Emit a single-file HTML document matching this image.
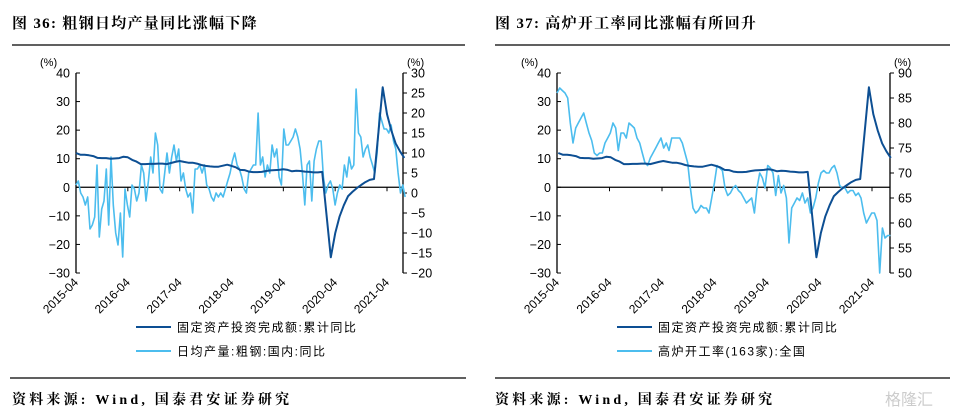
<!DOCTYPE html>
<html><head><meta charset="utf-8"><style>
body{margin:0;background:#fff;width:959px;height:418px;overflow:hidden;font-family:"Liberation Sans","Noto Sans CJK SC",sans-serif}
svg{position:absolute;left:0;top:0}
</style></head><body>
<svg id="c" width="959" height="418">
<text x="12" y="28" font-size="15" font-weight="bold" letter-spacing="1.3" font-family="Liberation Serif, Noto Serif CJK SC, serif">图 36:  粗钢日均产量同比涨幅下降</text>
<line x1="12" y1="45" x2="465" y2="45" stroke="#000" stroke-width="1.2"/>
<text x="495" y="28" font-size="15" font-weight="bold" letter-spacing="1.3" font-family="Liberation Serif, Noto Serif CJK SC, serif">图 37:  高炉开工率同比涨幅有所回升</text>
<line x1="495" y1="45" x2="950" y2="45" stroke="#000" stroke-width="1.2"/>
<line x1="10" y1="378" x2="466" y2="378" stroke="#000" stroke-width="1.2"/>
<line x1="495" y1="378" x2="950" y2="378" stroke="#000" stroke-width="1.2"/>
<text x="12" y="404" font-size="14" font-weight="bold" letter-spacing="3.2" font-family="Liberation Serif, Noto Serif CJK SC, serif">资料来源: Wind, 国泰君安证券研究</text>
<text x="495" y="404" font-size="14" font-weight="bold" letter-spacing="3.2" font-family="Liberation Serif, Noto Serif CJK SC, serif">资料来源: Wind, 国泰君安证券研究</text>
<text x="885" y="405" font-size="16" fill="#ccc">格隆汇</text>
</svg>
<script>
const yearLabels=["2015-04","2016-04","2017-04","2018-04","2019-04","2020-04","2021-04"];
const leftTicks=[40,30,20,10,0,-10,-20,-30];
const steelTicks=[30,25,20,15,10,5,0,-5,-10,-15,-20];
const furnaceTicks=[90,85,80,75,70,65,60,55,50];
// FAI cumulative yoy, monthly from 2015-04 to 2021-08 (null = January, not published)
const fai=[12.0,11.4,11.4,11.2,10.9,10.3,10.2,10.2,10.0,null,10.2,10.7,10.5,9.6,9.0,8.1,8.1,8.2,8.2,8.3,8.3,8.1,null,8.9,9.2,8.9,8.6,8.6,8.3,7.8,7.5,7.3,7.2,7.2,null,7.9,7.5,7.0,6.1,6.0,5.5,5.3,5.3,5.4,5.7,5.9,null,6.1,6.3,6.1,5.6,5.8,5.7,5.5,5.4,5.2,5.2,5.4,null,-24.5,-16.1,-10.3,-6.3,-3.1,-1.6,-0.3,0.8,1.8,2.6,2.9,null,35.0,25.6,19.9,15.4,12.6,10.3];
// crude steel daily output yoy, roughly semi-monthly, 2015-04 to 2021-08
const steel=[2,3,0,-1,-3,-1,-9,-8,-6,7,-11,-4,-2,6,-8,9,-3,-10,-13,-5,-16,1,-3,-6,2,1,-2,0,7,5,-2,3,9,5,15,12,1,0,5,10,5,9,12,8,11,3,5,1,-1,0,-5,6,6,7,5,7,2,1,-1,-2,0,-1,0,-1,1,3,5,8,10,7,6,4,1,0,5,6,7,7,20,7,9,4,7,5,12,9,11,4,2,16,12,12,13,14,16,14,11,5,-3,7,8,-2,8,11,13,13,4,0,2,3,1,-3,0,2,1,7,4,9,6,7,26,15,14,9,11,12,9,7,5,10,20,18,16,16,15,17,13,11,5,0,2,-1];
// blast furnace utilisation (163 mills), roughly semi-monthly, 2015-04 to 2021-08
const furnace=[86,87,86.5,86,85,80,76,79,80,81,82,80,78,76.5,74,73.5,74,74,76,77,78,80,79,74.5,78,78,77,80,79.5,79,77,76,74,72,71.5,73,74,75,76,77,75,76,74.5,77,77,77,77,76,74,72,67,63,62,62.5,63.5,63,63,62,65,68,71.5,71,70.5,67,65.5,66,67,67.5,66.5,66,65,64,64.5,65,62,67,70,69,67,71.5,71,70,65.5,69.5,66,67.5,65,56,63,64,65,64.5,66,64,65,62,63,65,68,70,70.5,70,70,71,71.5,70,67.5,67,67,66,66.5,66.5,65.5,66,65,62,60,61,62,62,60.5,50,59,57,57.5,57.5];

const NS='http://www.w3.org/2000/svg';
const svg=document.getElementById('c');
function el(tag,attrs,parent){const e=document.createElementNS(NS,tag);for(const k in attrs)e.setAttribute(k,attrs[k]);(parent||svg).appendChild(e);return e;}
const DARK='#0d4f93',LIGHT='#4cbdee';
const SPAN=76.2;

function drawChart(cfg){
  const g=el('g',{});
  
  
  const x0=cfg.x0,x1=cfg.x1,yt=73,yb=273;
  const xs=m=>x0+m*cfg.perMonth;
  const yl=v=>yt+(40-v)/70*(yb-yt);
  const yr=v=>yt+(cfg.rMax-v)/(cfg.rMax-cfg.rMin)*(yb-yt);
  const la=el('line',{x1:x0,y1:yt,x2:x0,y2:yb,stroke:'#000','stroke-width':1.3},g);
  
  
  const ra=el('line',{x1:x1,y1:yt,x2:x1,y2:yb,stroke:'#000','stroke-width':1.3},g);
  
  
  leftTicks.forEach(v=>{
    el('line',{x1:x0,y1:yl(v),x2:x0+4,y2:yl(v),stroke:'#000'},g);
    const t=el('text',{x:x0-6,y:yl(v)+4.5,'font-size':12.5,'text-anchor':'end'},g);
    t.textContent=v===0?'0':(v<0?'\u2212'+(-v):v);
    
    
  });
  cfg.rTicks.forEach(v=>{
    el('line',{x1:x1,y1:yr(v),x2:x1+4,y2:yr(v),stroke:'#000'},g);
    const t=el('text',{x:x1+8,y:yr(v)+4.5,'font-size':12.5},g);
    t.textContent=v<0?'\u2212'+(-v):v;
    
    
  });
  [[x0-36,'left-unit-label'],[x1+4,'right-unit-label']].forEach(([x,n])=>{
    const t=el('text',{x:x,y:66,'font-size':11},g);t.textContent='(%)';
    
    
  });
  const z=el('line',{x1:x0,y1:yl(0),x2:x1,y2:yl(0),stroke:'#000','stroke-width':1.2},g);
  
  
  yearLabels.forEach((lab,i)=>{
    const x=xs(i*12);
    el('line',{x1:x,y1:yl(0),x2:x,y2:yl(0)+4,stroke:'#000'},g);
    const t=el('text',{x:x+3,y:283,'font-size':12,'text-anchor':'end',transform:`rotate(-45 ${x+3} 283)`},g);
    t.textContent=lab;
    
    
  });
  const arr=cfg.light;
  let d='';arr.forEach((v,i)=>{const m=i*SPAN/(arr.length-1);d+=(i?'L':'M')+xs(m).toFixed(1)+','+yr(v).toFixed(1);});
  const lp=el('path',{d:d,fill:'none',stroke:LIGHT,'stroke-width':1.6,'stroke-linejoin':'round'},g);
  
  
  let d2='';let first=true;
  fai.forEach((v,i)=>{if(v===null)return;d2+=(first?'M':'L')+xs(i+cfg.faiOffset).toFixed(1)+','+yl(v).toFixed(1);first=false;});
  const dp=el('path',{d:d2,fill:'none',stroke:DARK,'stroke-width':2,'stroke-linejoin':'round'},g);
  
  
  const lx=cfg.legendX;
  const l1=el('line',{x1:lx,y1:327,x2:lx+35,y2:327,stroke:DARK,'stroke-width':2},g);
  
  
  const t1=el('text',{x:lx+41,y:331.5,'font-size':12,'letter-spacing':'1.5'},g);t1.textContent='固定资产投资完成额:累计同比';
  
  
  const l2=el('line',{x1:lx,y1:351,x2:lx+35,y2:351,stroke:LIGHT,'stroke-width':2},g);
  
  
  const t2=el('text',{x:lx+41,y:355.5,'font-size':12,'letter-spacing':'1.5'},g);t2.textContent=cfg.lightLabel;
  
  
}
drawChart({name:'steel-chart',x0:76,x1:403,perMonth:311/72,rMax:30,rMin:-20,rTicks:steelTicks,light:steel,lightName:'steel-output-yoy-line',lightLabel:'日均产量:粗钢:国内:同比',legendX:136,faiOffset:0});
drawChart({name:'furnace-chart',x0:557,x1:890,perMonth:315/72,rMax:90,rMin:50,rTicks:furnaceTicks,light:furnace,lightName:'blast-furnace-rate-line',lightLabel:'高炉开工率(163家):全国',legendX:617,faiOffset:0.3});
</script>
</body></html>
